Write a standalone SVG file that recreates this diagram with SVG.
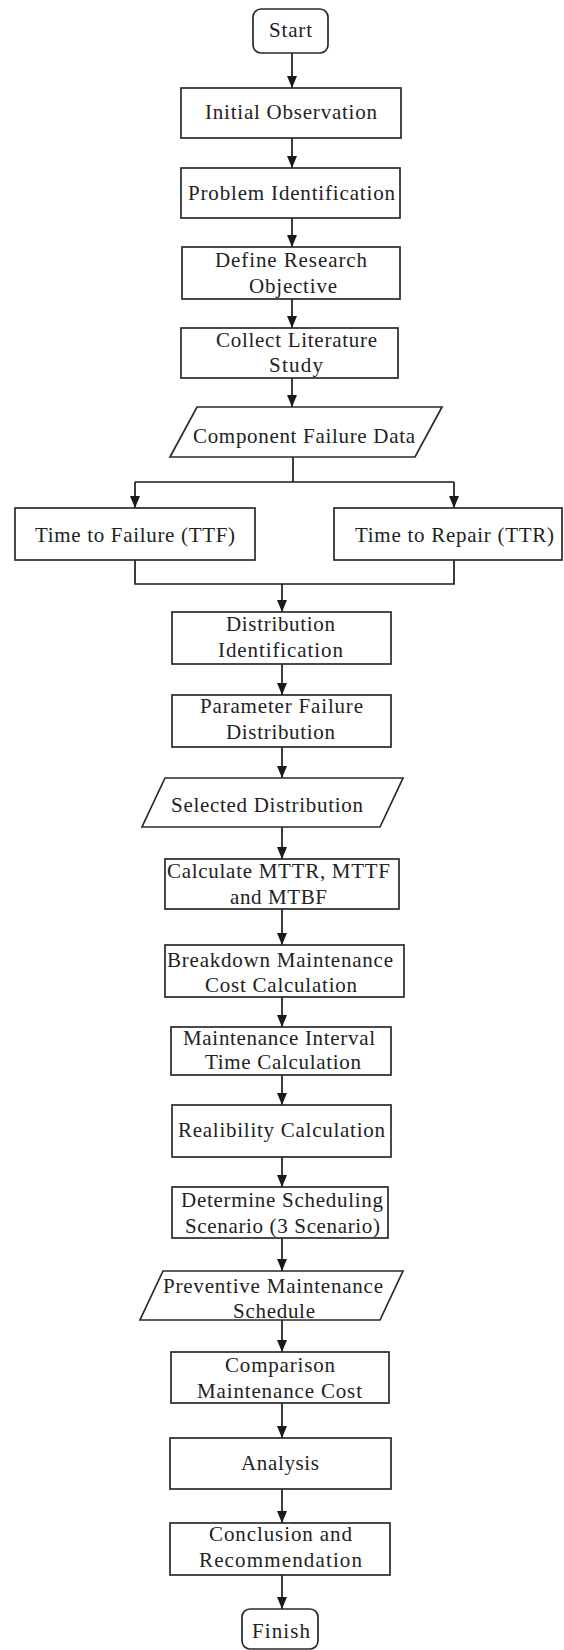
<svg xmlns="http://www.w3.org/2000/svg" width="564" height="1650" viewBox="0 0 564 1650">
<defs>
<marker id="ah" viewBox="0 0 12 10" refX="12" refY="5" markerWidth="12" markerHeight="10" markerUnits="userSpaceOnUse" orient="auto">
<path d="M0,0 L12,5 L0,10 Z" fill="#1a1a1a"/>
</marker>
</defs>
<style>
.b{fill:#fff;stroke:#2a2a2a;stroke-width:1.7}
.t{font-family:"Liberation Serif","Times New Roman",serif;font-size:21px;fill:#222}
.c line,.c path{stroke:#1a1a1a;stroke-width:1.7;fill:none}
</style>
<rect width="564" height="1650" fill="#fff"/>
<g class="c" id="connectors">
<line x1="292" y1="53" x2="292" y2="88" marker-end="url(#ah)"/>
<line x1="292" y1="138" x2="292" y2="168" marker-end="url(#ah)"/>
<line x1="292" y1="218" x2="292" y2="247" marker-end="url(#ah)"/>
<line x1="292" y1="299" x2="292" y2="328" marker-end="url(#ah)"/>
<line x1="292" y1="378" x2="292" y2="407" marker-end="url(#ah)"/>
<path d="M293,457 V482"/>
<path d="M135,482 H454"/>
<line x1="135" y1="482" x2="135" y2="508" marker-end="url(#ah)"/>
<line x1="454" y1="482" x2="454" y2="508" marker-end="url(#ah)"/>
<path d="M135,560 V584 H454 V560"/>
<line x1="282" y1="584" x2="282" y2="612" marker-end="url(#ah)"/>
<line x1="282" y1="664" x2="282" y2="695" marker-end="url(#ah)"/>
<line x1="282" y1="747" x2="282" y2="778" marker-end="url(#ah)"/>
<line x1="282" y1="827" x2="282" y2="859" marker-end="url(#ah)"/>
<line x1="282" y1="909" x2="282" y2="945" marker-end="url(#ah)"/>
<line x1="282" y1="997" x2="282" y2="1027" marker-end="url(#ah)"/>
<line x1="282" y1="1075" x2="282" y2="1105" marker-end="url(#ah)"/>
<line x1="282" y1="1157" x2="282" y2="1187" marker-end="url(#ah)"/>
<line x1="282" y1="1238" x2="282" y2="1271" marker-end="url(#ah)"/>
<line x1="282" y1="1320" x2="282" y2="1352" marker-end="url(#ah)"/>
<line x1="282" y1="1403" x2="282" y2="1438" marker-end="url(#ah)"/>
<line x1="282" y1="1489" x2="282" y2="1523" marker-end="url(#ah)"/>
<line x1="282" y1="1575" x2="282" y2="1609" marker-end="url(#ah)"/>
</g>
<g id="start"><rect class="b" x="253" y="9" width="75" height="44" rx="8"/><text class="t" x="269" y="37" textLength="43">Start</text></g>
<g id="initial-observation"><rect class="b" x="181" y="88" width="220" height="50"/><text class="t" x="205" y="119" textLength="172">Initial Observation</text></g>
<g id="problem-identification"><rect class="b" x="181" y="168" width="219" height="50"/><text class="t" x="188" y="200" textLength="207">Problem Identification</text></g>
<g id="define-research"><rect class="b" x="182" y="247" width="218" height="52"/><text class="t" x="215" y="267" textLength="152">Define Research</text><text class="t" x="249" y="293" textLength="88">Objective</text></g>
<g id="collect-literature"><rect class="b" x="181" y="328" width="217" height="50"/><text class="t" x="216" y="347" textLength="161">Collect Literature</text><text class="t" x="269" y="372" textLength="54">Study</text></g>
<g id="component-failure-data"><polygon class="b" points="197,407 442,407 415,457 170,457"/><text class="t" x="193" y="443" textLength="222">Component Failure Data</text></g>
<g id="ttf"><rect class="b" x="15" y="508" width="240" height="52"/><text class="t" x="35" y="542" textLength="200">Time to Failure (TTF)</text></g>
<g id="ttr"><rect class="b" x="334" y="508" width="228" height="52"/><text class="t" x="355" y="542" textLength="199">Time to Repair (TTR)</text></g>
<g id="distribution-identification"><rect class="b" x="172" y="612" width="219" height="52"/><text class="t" x="226" y="631" textLength="109">Distribution</text><text class="t" x="218" y="657" textLength="125">Identification</text></g>
<g id="parameter-failure-distribution"><rect class="b" x="172" y="695" width="219" height="52"/><text class="t" x="200" y="713" textLength="163">Parameter Failure</text><text class="t" x="226" y="739" textLength="109">Distribution</text></g>
<g id="selected-distribution"><polygon class="b" points="165,778 403,778 380,827 142,827"/><text class="t" x="171" y="812" textLength="192">Selected Distribution</text></g>
<g id="calculate-mttr"><rect class="b" x="165" y="859" width="234" height="50"/><text class="t" x="167" y="878" textLength="223">Calculate MTTR, MTTF</text><text class="t" x="230" y="904" textLength="97">and MTBF</text></g>
<g id="breakdown-cost"><rect class="b" x="165" y="945" width="239" height="52"/><text class="t" x="167" y="967" textLength="226">Breakdown Maintenance</text><text class="t" x="205" y="992" textLength="152">Cost Calculation</text></g>
<g id="maintenance-interval"><rect class="b" x="171" y="1027" width="220" height="48"/><text class="t" x="183" y="1045" textLength="192">Maintenance Interval</text><text class="t" x="205" y="1069" textLength="156">Time Calculation</text></g>
<g id="realibility"><rect class="b" x="172" y="1105" width="219" height="52"/><text class="t" x="178" y="1137" textLength="207">Realibility Calculation</text></g>
<g id="determine-scheduling"><rect class="b" x="172" y="1187" width="216" height="51"/><text class="t" x="181" y="1207" textLength="202">Determine Scheduling</text><text class="t" x="185" y="1233" textLength="195">Scenario (3 Scenario)</text></g>
<g id="preventive-schedule"><polygon class="b" points="163,1271 403,1271 380,1320 140,1320"/><text class="t" x="163" y="1293" textLength="220">Preventive Maintenance</text><text class="t" x="233" y="1318" textLength="82">Schedule</text></g>
<g id="comparison"><rect class="b" x="171" y="1352" width="218" height="51"/><text class="t" x="225" y="1372" textLength="110">Comparison</text><text class="t" x="197" y="1398" textLength="165">Maintenance Cost</text></g>
<g id="analysis"><rect class="b" x="170" y="1438" width="221" height="51"/><text class="t" x="241" y="1470" textLength="78">Analysis</text></g>
<g id="conclusion"><rect class="b" x="170" y="1523" width="220" height="52"/><text class="t" x="209" y="1541" textLength="143">Conclusion and</text><text class="t" x="199" y="1567" textLength="163">Recommendation</text></g>
<g id="finish"><rect class="b" x="242" y="1609" width="76" height="40" rx="8"/><text class="t" x="252" y="1638" textLength="58">Finish</text></g>
</svg>
